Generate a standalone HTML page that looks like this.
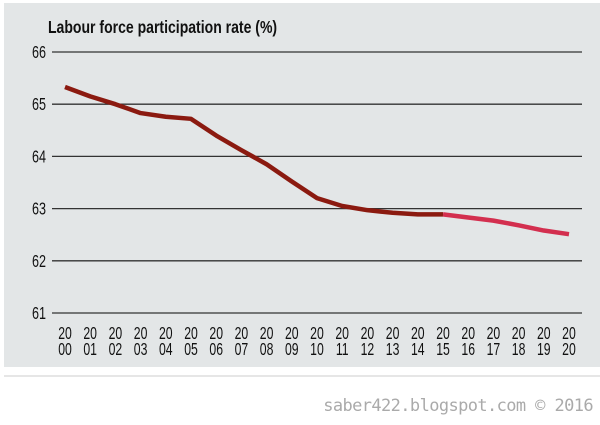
<!DOCTYPE html>
<html><head><meta charset="utf-8"><style>
body{margin:0;width:600px;height:420px;background:#fff;overflow:hidden;font-family:"Liberation Sans",sans-serif}
</style></head><body>
<svg width="600" height="420" xmlns="http://www.w3.org/2000/svg">
<rect x="4" y="3" width="596" height="364" fill="#e3e6e7"/>
<line x1="4" y1="376" x2="600" y2="376" stroke="#e6e6e6" stroke-width="2"/>
<text x="48" y="33" font-size="18" font-weight="bold" fill="#111" transform="translate(48,0) scale(0.78,1) translate(-48,0)">Labour force participation rate (%)</text>
<g id="grid"></g><g id="ylab"></g><g id="xlab"></g><g id="lines"></g>
<text x="593" y="411" text-anchor="end" font-size="17" fill="#aaa" font-family="'DejaVu Sans Mono',monospace" letter-spacing="-0.6">saber422.blogspot.com © 2016</text>
</svg>
<script>
const years=["00","01","02","03","04","05","06","07","08","09","10","11","12","13","14","15","16","17","18","19","20"];
const actual=[65.33,65.15,65.0,64.83,64.76,64.72,64.4,64.12,63.85,63.52,63.2,63.05,62.97,62.92,62.89,62.89];
const projected=[62.89,62.83,62.77,62.68,62.58,62.51];
const yTicks=[61,62,63,64,65,66];
const NS="http://www.w3.org/2000/svg";
const x=i=>65+i*25.2;
const y=v=>313-(v-61)*52.2;
function mk(t,a,p){const e=document.createElementNS(NS,t);for(const k in a)e.setAttribute(k,a[k]);document.getElementById(p).appendChild(e);return e;}
yTicks.forEach(v=>{
 const l=mk('line',{x1:52,x2:582,y1:y(v),y2:y(v),stroke:'#333','stroke-width':1.3},'grid');
 
 
 const t=mk('text',{x:46,y:y(v)+6,'text-anchor':'end','font-size':18,fill:'#111',transform:`translate(46,0) scale(0.7,1) translate(-46,0)`},'ylab');
 t.textContent=v;
 
 
});
years.forEach((yy,i)=>{
 [["20",339],[yy,355]].forEach(([s,yp])=>{
  const t=mk('text',{x:x(i),y:yp,'text-anchor':'middle','font-size':18,fill:'#111',transform:`translate(${x(i)},0) scale(0.68,1) translate(${-x(i)},0)`},'xlab');
  t.textContent=s;
  
  
 });
});
const p1=mk('polyline',{points:actual.map((v,i)=>x(i)+','+y(v)).join(' '),fill:'none',stroke:'#8b1a10','stroke-width':4.5,'stroke-linejoin':'round'},'lines');


const off=actual.length-1;
const p2=mk('polyline',{points:projected.map((v,i)=>x(i+off)+','+y(v)).join(' '),fill:'none',stroke:'#d32f4f','stroke-width':4.5,'stroke-linejoin':'round'},'lines');


</script>
</body></html>
